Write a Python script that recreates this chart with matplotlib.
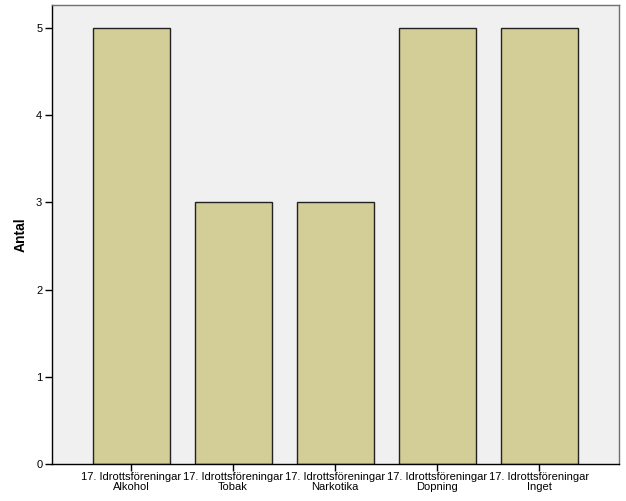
import matplotlib
matplotlib.use("Agg")
import matplotlib.pyplot as plt

categories = ["17. Idrottsföreningar\nAlkohol", "17. Idrottsföreningar\nTobak",
              "17. Idrottsföreningar\nNarkotika", "17. Idrottsföreningar\nDopning",
              "17. Idrottsföreningar\nInget"]
values = [5, 3, 3, 5, 5]
yticks = [0, 1, 2, 3, 4, 5]

plt.rcParams['font.family'] = ['Liberation Sans', 'DejaVu Sans']

fig = plt.figure(figsize=(6.26, 5.01), dpi=100)
ax = fig.add_axes([52/626, 1-464/501, (619-52)/626, (464-5)/501])
ax.set_facecolor('#F0F0F0')
x = list(range(len(categories)))
ax.bar(x, values, width=0.755, color='#D3CE98', edgecolor='#222222', linewidth=1.0, zorder=2)
ax.set_xlim(-0.775, 4.78)
ax.set_ylim(0, 5.264)
ax.set_yticks(yticks)
ax.set_xticks(x)
ax.set_xticklabels(categories, fontsize=8, linespacing=0.95)
ax.tick_params(axis='y', labelsize=8, length=5, width=1, color='black', pad=2)
ax.tick_params(axis='x', length=5, width=1, color='black', pad=1)
ax.set_ylabel('Antal', fontsize=10, fontweight='bold', labelpad=6)
for s in ['left', 'bottom']:
    ax.spines[s].set_color('black')
    ax.spines[s].set_linewidth(1)
for s in ['top', 'right']:
    ax.spines[s].set_color('#707070')
    ax.spines[s].set_linewidth(1)
fig.savefig('out.png', dpi=100)
